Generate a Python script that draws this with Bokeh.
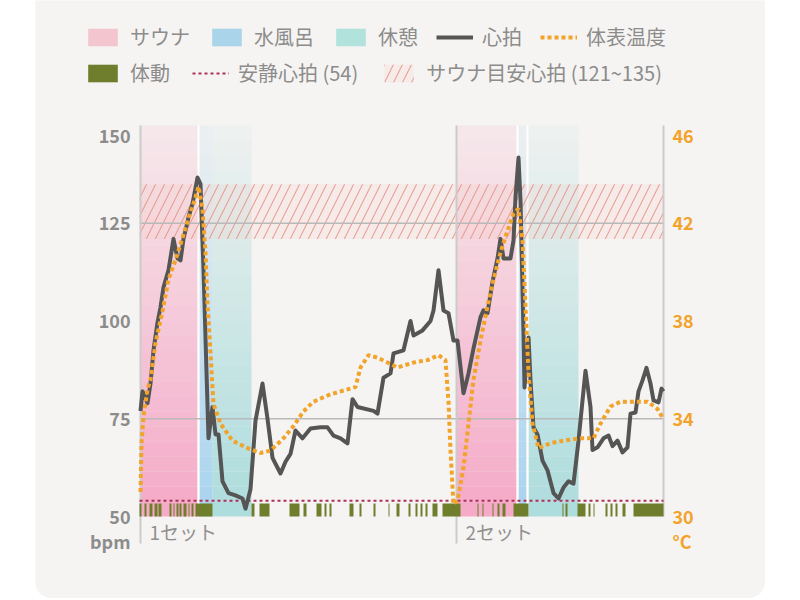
from bokeh.plotting import figure
from bokeh.models import (ColumnDataSource, Range1d, Legend, LegendItem, Spacer)
from bokeh.layouts import row
from bokeh.core.properties import value
from bokeh.embed import file_html
from bokeh.resources import INLINE

# ---------------- data (time in minutes) ----------------
hr_t = [0.2, 0.6, 1.6, 2.2, 2.8, 3.6, 4.2, 4.8, 5.8, 6.8, 7.6, 8.2, 8.8, 9.8, 10.6, 11.6, 12.2,
        12.8, 13.4, 13.8, 14.6, 15.2, 15.8, 16.6, 17.8, 19.2, 20.6, 21.2, 22.2, 23.2, 24.6, 25.6,
        26.6, 28.2, 29.2, 30.2, 31.2, 32.6, 34.2, 36.2, 37.6, 38.8, 40.2, 41.6, 42.6, 43.6, 46.8,
        47.6, 48.8, 50.2, 50.8, 52.8, 54.2, 54.8, 56.6, 58.2, 58.8, 59.8, 60.8, 61.8, 62.8, 63.6,
        64.8, 65.8, 66.8, 68.2, 68.8, 69.6, 70.6, 71.6, 72.2, 72.8, 74.2, 74.8, 75.2, 75.8, 76.2,
        76.8, 77.0, 77.8, 78.2, 78.8, 79.6, 80.6, 81.6, 82.8, 83.8, 84.8, 85.8, 86.8, 87.8, 89.2,
        90.2, 90.6, 91.6, 92.8, 93.8, 94.6, 95.6, 96.6, 97.6, 98.2, 99.2, 99.8, 100.6, 101.4,
        102.2, 102.8, 103.8, 104.4, 104.8]
hr_bpm = [77, 82, 79, 84, 92.5, 99.6, 103.5, 108.6, 113, 121, 116, 115.5, 121, 126.5, 130, 136.7,
          135, 113, 87, 70, 78, 71, 71, 59, 56, 55.4, 54.6, 52, 57, 74.5, 84, 75, 65, 61, 64, 66,
          72, 70, 72.5, 72.8, 72.8, 70.7, 70, 68.7, 80, 78, 77, 76.3, 85.5, 86.6, 91.7, 92.5, 100,
          96.3, 97.6, 100, 102.7, 113, 102.7, 102, 95, 95, 81.5, 86.6, 93, 101, 102.7, 102, 110,
          116, 121, 116, 116, 120.6, 131.6, 141.8, 130.8, 96.8, 83, 95.8, 84.8, 72.8, 71, 64.3,
          61.8, 56, 54.6, 57.4, 59, 58.4, 69.4, 87.3, 78, 67, 67.7, 70, 70.7, 68, 69.4, 66.4,
          67.7, 76.3, 76.6, 82, 84.8, 88, 84, 79.7, 79.2, 82.7, 82]

temp_t = [0.2, 0.4, 0.8, 1.6, 2.2, 3.2, 4.6, 5.8, 7.2, 8.6, 9.8, 10.8, 11.8, 12.6, 13.2, 13.6,
          14.2, 14.8, 16.2, 18.6, 21.6, 24.2, 26.2, 28.8, 30.8, 32.8, 34.8, 38.2, 41.6, 43.2,
          44.2, 45.8, 47.6, 49.6, 51.6, 54.8, 57.6, 59.8, 61.2, 61.8, 62.2, 62.8, 63.6, 64.8,
          65.8, 66.8, 68.2, 69.6, 70.8, 72.2, 73.6, 74.8, 75.8, 76.6, 77.2, 77.8, 78.6, 79.8,
          82.2, 84.8, 88.2, 90.8, 92.2, 94.2, 96.2, 98.8, 101.6, 103.6, 104.6]
temp_c = [31.0, 33.0, 34.1, 35.2, 35.6, 37.1, 38.4, 39.7, 40.5, 41.4, 42.2, 42.8, 43.5, 42.6,
          40.8, 38.7, 36.7, 34.6, 33.8, 33.1, 32.8, 32.6, 32.7, 33.2, 33.7, 34.3, 34.7, 35.0,
          35.2, 35.3, 36.1, 36.6, 36.5, 36.3, 36.1, 36.3, 36.4, 36.6, 36.4, 34.7, 32.7, 30.5,
          30.65, 32.0, 33.8, 35.6, 37.2, 38.6, 39.7, 40.8, 41.7, 42.4, 42.6, 41.3, 38.6, 35.9,
          33.8, 32.8, 33.0, 33.1, 33.2, 33.2, 33.8, 34.5, 34.7, 34.7, 34.7, 34.4, 34.05]

sauna_start = [0.2, 63.4]
sauna_end = [11.6, 75.4]
cold_start = [12.0, 75.8]
cold_end = [14.6, 77.4]
rest_start = [14.6, 77.8]
rest_end = [22.4, 87.8]

move_start = [0.0, 1.0, 2.0, 3.0, 3.8, 6.0, 6.8, 7.4, 8.0, 8.8, 9.8, 10.4, 11.2, 22.4, 24.0,
              30.0, 32.8, 35.4, 37.0, 38.0, 42.0, 44.0, 46.8, 49.8, 51.4, 53.8, 55.2, 56.2,
              57.2, 58.6, 60.6, 67.6, 68.6, 70.6, 71.6, 72.6, 74.8, 84.6, 85.2, 87.6, 89.8,
              90.8, 93.2, 94.2, 95.2, 96.6, 98.8]
move_end = [0.4, 1.4, 2.6, 3.6, 4.4, 6.4, 7.0, 7.8, 8.4, 9.4, 10.0, 10.8, 14.6, 23.0, 26.0,
            32.0, 33.4, 36.4, 37.4, 38.4, 42.8, 44.4, 47.2, 50.0, 52.0, 54.2, 55.6, 56.6,
            57.6, 59.6, 64.2, 67.8, 68.8, 70.8, 72.0, 73.2, 77.8, 84.8, 85.6, 89.2, 90.2,
            91.0, 93.6, 94.6, 95.6, 97.2, 104.8]

set_start = [0.2, 63.4]
set_label = ["1セット", "2セット"]
resting_hr = 54
target_low, target_high = 121, 135
t_end = 104.8
hr_min, hr_max = 50, 150
temp_min, temp_max = 30, 46
hr_ticks = [50, 75, 100, 125, 150]
temp_ticks = [30, 34, 38, 42, 46]
hr_unit, temp_unit = "bpm", "°C"

legend_row1 = ["サウナ", "水風呂", "休憩", "心拍", "体表温度"]
legend_row2 = ["体動", "安静心拍 (54)", "サウナ目安心拍 (121~135)"]

# ---------------- layout / styling ----------------
FONT = "Noto Sans CJK JP"
BG = "#f6f4f2"
GRAY_TXT = "#8c8c8c"
ORANGE = "#f2a32a"
C_SAUNA, C_COLD, C_REST = "#f49cbf", "#9acdee", "#a0d8d9"
C_MOVE = "#6e7e2c"
C_HR = "#555555"
C_RESTING = "#ac2f5a"

W, H = 730, 598                 # card size (px)
PLOT_L, PLOT_R = 104, 628       # plot area in card px
PLOT_T, PLOT_B = 125, 516
px_min = (PLOT_R - PLOT_L) / t_end
px_bpm = (PLOT_B - PLOT_T) / (hr_max - hr_min)
x_lo, x_hi = -PLOT_L / px_min, t_end + (W - PLOT_R) / px_min
y_lo, y_hi = hr_min - (H - PLOT_B) / px_bpm, hr_max + PLOT_T / px_bpm
scale = (temp_max - temp_min) / (hr_max - hr_min)
def to_temp(h):
    return temp_min + (h - hr_min) * scale

band_style = dict(fill_color="#f7cdc6", fill_alpha=0.22, line_color=None, hatch_pattern="/",
                  hatch_color="#e3948a", hatch_alpha=0.85, hatch_weight=1.1, hatch_scale=18)
hr_style = dict(line_color=C_HR, line_width=4, line_join="round")
temp_style = dict(line_color=ORANGE, line_width=4, line_dash="4 3")
rest_style = dict(line_color=C_RESTING, line_width=2, line_dash="3 3")

p = figure(width=W, height=H, x_range=Range1d(x_lo, x_hi), y_range=Range1d(y_lo, y_hi),
           output_backend="svg", toolbar_location=None, x_axis_location=None,
           y_axis_location=None, min_border=0, background_fill_color=BG,
           border_fill_color=BG, outline_line_color=None)
p.grid.visible = False
p.styles = {"border-radius": "0px 0px 16px 16px", "overflow": "hidden"}
p.extra_y_ranges = {"temp": Range1d(to_temp(y_lo), to_temp(y_hi))}

# gradient zones
N = 26
def strips(starts, ends, a_bot, a_top):
    d = dict(l=[], r=[], b=[], t=[], a=[])
    for s, en in zip(starts, ends):
        for i in range(N):
            d["l"].append(s); d["r"].append(en)
            d["b"].append(hr_min + i * (hr_max - hr_min) / N)
            d["t"].append(hr_min + (i + 1) * (hr_max - hr_min) / N)
            d["a"].append(a_bot - (a_bot - a_top) * (i + 0.5) / N)
    return ColumnDataSource(d)

for st, en, col, ab, at in [(sauna_start, sauna_end, C_SAUNA, 0.86, 0.12),
                            (cold_start, cold_end, C_COLD, 0.86, 0.10),
                            (rest_start, rest_end, C_REST, 0.86, 0.08)]:
    p.quad(left="l", right="r", bottom="b", top="t", fill_alpha="a", fill_color=col,
           line_color=None, source=strips(st, en, ab, at))

# white separators between consecutive zones
gap_l = sauna_end + [e for e, s in zip(cold_end, rest_start) if s > e]
gap_r = cold_start + [s for e, s in zip(cold_end, rest_start) if s > e]
p.quad(left=gap_l, right=gap_r, bottom=hr_min, top=hr_max, fill_color="white",
       fill_alpha=0.85, line_color=None)

r_band = p.quad(left=[0], right=[t_end], bottom=[target_low], top=[target_high], **band_style)

# grid lines at 75 / 125
grid_vals = hr_ticks[1::2]
p.segment(x0=[0] * len(grid_vals), x1=[t_end] * len(grid_vals), y0=grid_vals, y1=grid_vals,
          line_color="#b9b9b9", line_width=1.5)

# set marker lines and right border
p.segment(x0=set_start, x1=set_start, y0=[hr_min - 27 / px_bpm] * 2, y1=[hr_max] * 2,
          line_color="#cbcbcb", line_width=2)
p.segment(x0=[t_end], x1=[t_end], y0=[hr_min], y1=[hr_max], line_color="#cbcbcb",
          line_width=2)

r_move = p.quad(left=move_start, right=move_end, bottom=hr_min, top=hr_min + 13 / px_bpm,
                fill_color=C_MOVE, line_color=None)
r_rest = p.line([0, t_end], [resting_hr, resting_hr], **rest_style)
r_hr = p.line(hr_t, hr_bpm, **hr_style)
r_temp = p.line(temp_t, temp_c, y_range_name="temp", **temp_style)

# set labels
p.text(x=[s + 9 / px_min for s in set_start], y=[hr_min - 15 / px_bpm] * 2, text=set_label,
       text_font=value(FONT), text_font_size="19px", text_color="#909090",
       text_baseline="middle", text_align="left")

# axis tick labels (top label sits 10px below the top of the plot, unit 24px below bottom)
def tick_pos(vals):
    return vals[:-1] + [vals[-1] - 10 / px_bpm * (vals[-1] - vals[0]) / (hr_max - hr_min)]

l_y = [hr_min - 24 / px_bpm] + tick_pos(hr_ticks)
l_txt = [hr_unit] + [str(v) for v in hr_ticks]
r_y = [to_temp(hr_min - 24 / px_bpm)] + tick_pos(temp_ticks)
r_txt = [temp_unit] + [str(v) for v in temp_ticks]
tick_font = dict(text_font=value(FONT), text_font_size="18px", text_font_style="bold",
                 text_baseline="middle")
p.text(x=[-9 / px_min] * len(l_y), y=l_y, text=l_txt, text_color=GRAY_TXT,
       text_align="right", **tick_font)
p.text(x=[t_end + 9 / px_min] * len(r_y), y=r_y, text=r_txt, text_color=ORANGE,
       text_align="left", y_range_name="temp", **tick_font)

# legend swatches (single NaN point, never drawn in the plot area)
nan = float("nan")
def swatch(color):
    return p.quad(left=[nan], right=[nan], top=[nan], bottom=[nan], fill_color=color,
                  line_color=None)
sw_sauna, sw_cold, sw_rest = swatch("#f3c5cf"), swatch("#a9d4ea"), swatch("#b2e2dc")

GLYPH_H = 22
def make_legend(labels, rends, left_px, bottom_px, spacing):
    lg = Legend(items=[LegendItem(label=l, renderers=[r]) for l, r in zip(labels, rends)],
                orientation="horizontal", location=(left_px, H - bottom_px),
                label_text_font=FONT, label_text_font_size="20px",
                label_text_color=GRAY_TXT, glyph_width=37, glyph_height=GLYPH_H,
                label_height=GLYPH_H, label_standoff=9, spacing=spacing, padding=0, margin=0,
                border_line_color=None, background_fill_alpha=0)
    p.add_layout(lg)

make_legend(legend_row1, [sw_sauna, sw_cold, sw_rest, r_hr, r_temp], 49, 51, 18)
make_legend(legend_row2, [r_move, r_rest, r_band], 49, 87, 22)

layout = row(Spacer(width=35, height=H), p)
open("out.html", "w").write(file_html(layout, INLINE))
